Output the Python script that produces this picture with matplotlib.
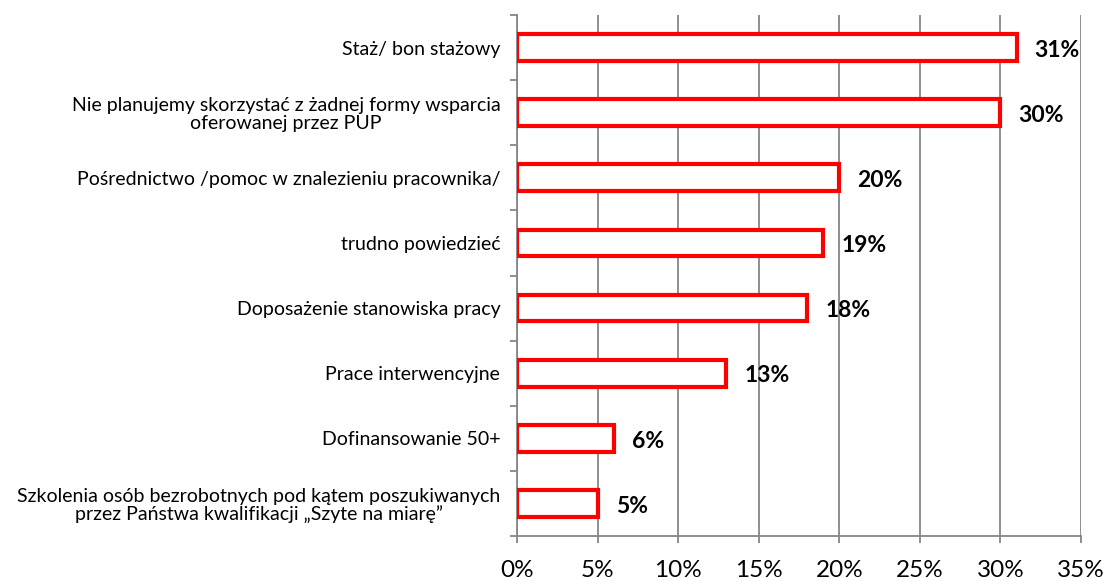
import matplotlib
matplotlib.use("Agg")
import matplotlib.pyplot as plt
from matplotlib.ticker import FixedLocator, PercentFormatter

categories = [
    "Staż/ bon stażowy",
    "Nie planujemy skorzystać z żadnej formy wsparcia\noferowanej przez PUP",
    "Pośrednictwo /pomoc w znalezieniu pracownika/",
    "trudno powiedzieć",
    "Doposażenie stanowiska pracy",
    "Prace interwencyjne",
    "Dofinansowanie 50+",
    "Szkolenia osób bezrobotnych pod kątem poszukiwanych\nprzez Państwa kwalifikacji „Szyte na miarę”",
]
values = [31, 30, 20, 19, 18, 13, 6, 5]
value_labels = ["31%", "30%", "20%", "19%", "18%", "13%", "6%", "5%"]
xticks = [0, 5, 10, 15, 20, 25, 30, 35]

plt.rcParams['font.family'] = ['Lato', 'DejaVu Sans']

fig = plt.figure(figsize=(11.09, 5.81), dpi=100)
ax = fig.add_axes([517/1109, 1 - 536/581, (1081-517)/1109, (536-15)/581])

gray = "#868686"
red = "#FF0000"
ypos = list(range(len(categories)))
ax.barh(ypos, values, height=0.41, facecolor="white", edgecolor=red, linewidth=3, zorder=3)

for y, v, lab in zip(ypos, values, value_labels):
    ax.annotate(lab, xy=(v, y), xytext=(13, -2), textcoords="offset points",
                va="center", ha="left", fontsize=16.5, fontweight="bold", color="black", zorder=4)

ax.set_xlim(0, 35)
ax.set_ylim(len(categories) - 0.5, -0.5)
ax.set_xticks(xticks)
ax.xaxis.set_major_formatter(PercentFormatter(decimals=0))
ax.grid(axis="x", color=gray, linewidth=1.3, zorder=0)

ax.set_yticks(ypos)
ax.set_yticklabels(categories, multialignment="center", linespacing=1.05)
ax.yaxis.set_minor_locator(FixedLocator([i - 0.5 for i in range(len(categories) + 1)]))
ax.tick_params(axis="y", which="major", length=0, pad=12, labelsize=14)
ax.tick_params(axis="y", which="minor", length=5, width=1.3, color=gray, direction="out")
ax.tick_params(axis="x", which="major", length=5, width=1.3, color=gray, direction="out",
               pad=12, labelsize=17.5)

for s in ["top", "right"]:
    ax.spines[s].set_visible(False)
for s in ["left", "bottom"]:
    ax.spines[s].set_color(gray)
    ax.spines[s].set_linewidth(1.3)

fig.savefig("out.png", dpi=100, facecolor="white")
